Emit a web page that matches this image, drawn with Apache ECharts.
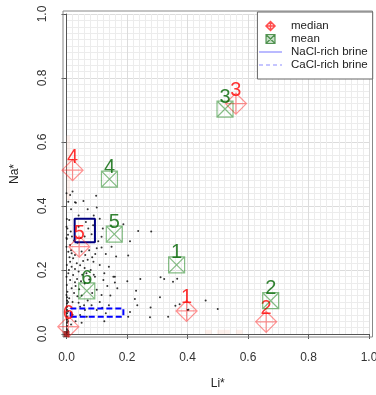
<!DOCTYPE html>
<html>
<head>
<meta charset="utf-8">
<script src="https://cdn.jsdelivr.net/npm/echarts@6/dist/echarts.min.js"></script>
<style>
  html, body { margin: 0; padding: 0; background: #fff; }
  #chart { width: 376px; height: 395px; }
</style>
</head>
<body>
<div id="chart"></div>
<script>
// axis ticks (both axes)
const ticks = [0, 0.2, 0.4, 0.6, 0.8, 1.0];
const groupLabels = ['1', '2', '3', '4', '5', '6'];

// group medians and means (Li*, Na*)
const medianLi = [0.397, 0.660, 0.560, 0.020, 0.042, 0.006];
const medianNa = [0.072, 0.038, 0.720, 0.512, 0.273, 0.023];
const meanLi = [0.364, 0.675, 0.524, 0.142, 0.158, 0.067];
const meanNa = [0.216, 0.104, 0.703, 0.484, 0.312, 0.135];

// brine fields: [Li min, Li max, Na min, Na max]
const naclBox = [0.027, 0.094, 0.287, 0.360];
const caclBox = [0.014, 0.188, 0.054, 0.080];

// overlapping samples stacked at the origin
const originCluster = [[0, 0]];

// faint density cells: [Li min, Na min, Li max, Na max]
const pinkCells = [
  [-0.01, 0.42, 0.012, 0.62],
  [0.458, -0.01, 0.48, 0.013],
  [0.498, -0.01, 0.54, 0.013],
  [0.56, -0.01, 0.582, 0.013]
];

// individual samples (Li*, Na*)
const samples = [
  [0.000, 0.440], [0.012, 0.434], [0.020, 0.445], [0.031, 0.410], [0.098, 0.432], [0.100, 0.395],
  [0.237, 0.322], [0.280, 0.320], [0.188, 0.343], [0.210, 0.290], [0.204, 0.245], [0.164, 0.242],
  [0.244, 0.172], [0.201, 0.165], [0.160, 0.179], [0.168, 0.143], [0.230, 0.135], [0.226, 0.109],
  [0.234, 0.090], [0.278, 0.083], [0.276, 0.052], [0.311, 0.177], [0.323, 0.172], [0.309, 0.115],
  [0.336, 0.054], [0.204, 0.054], [0.366, 0.173], [0.352, 0.163], [0.210, 0.069], [0.360, 0.088],
  [0.374, 0.093], [0.403, 0.076], [0.460, 0.105], [0.500, 0.078], [0.400, 0.075],
  [0.006, 0.413], [0.028, 0.412], [0.056, 0.416], [0.001, 0.359], [0.009, 0.356], [0.000, 0.335],
  [0.003, 0.330], [0.000, 0.300], [0.001, 0.297], [0.012, 0.278], [0.000, 0.273], [0.006, 0.257],
  [0.017, 0.252], [0.028, 0.247], [0.022, 0.237], [0.012, 0.226], [0.034, 0.221], [0.001, 0.216],
  [0.017, 0.210], [0.028, 0.203], [0.006, 0.190], [0.022, 0.184], [0.000, 0.179], [0.012, 0.169],
  [0.028, 0.162], [0.001, 0.153], [0.017, 0.143], [0.003, 0.132], [0.000, 0.122], [0.009, 0.112],
  [0.100, 0.268], [0.116, 0.270], [0.089, 0.226], [0.110, 0.216], [0.094, 0.179], [0.122, 0.169],
  [0.100, 0.138], [0.116, 0.122], [0.045, 0.085], [0.061, 0.075], [0.083, 0.090], [0.100, 0.075],
  [0.045, 0.059], [0.067, 0.054], [0.155, 0.179], [0.160, 0.161], [0.149, 0.273], [0.116, 0.304],
  [0.018, 0.305], [0.025, 0.292], [0.036, 0.285], [0.047, 0.300], [0.060, 0.305], [0.072, 0.330],
  [0.083, 0.312], [0.064, 0.350], [0.088, 0.340], [0.040, 0.335], [0.015, 0.262], [0.050, 0.258],
  [0.062, 0.247], [0.075, 0.262], [0.085, 0.240], [0.095, 0.250], [0.070, 0.232], [0.055, 0.228],
  [0.045, 0.215], [0.060, 0.206], [0.040, 0.195], [0.052, 0.185], [0.066, 0.190], [0.080, 0.200],
  [0.090, 0.185], [0.035, 0.172], [0.048, 0.165], [0.060, 0.158], [0.075, 0.170], [0.030, 0.150],
  [0.042, 0.140], [0.025, 0.128], [0.036, 0.118], [0.050, 0.120], [0.085, 0.128], [0.070, 0.105],
  [0.040, 0.098], [0.020, 0.100], [0.058, 0.090], [0.110, 0.100], [0.118, 0.082], [0.130, 0.065],
  [0.140, 0.090], [0.125, 0.040], [0.020, 0.060], [0.030, 0.040], [0.015, 0.030], [0.050, 0.035],
  [0.130, 0.250], [0.140, 0.210], [0.125, 0.190], [0.135, 0.150], [0.145, 0.120], [0.105, 0.290],
  [0.120, 0.330], [0.110, 0.360], [0.090, 0.370], [0.070, 0.390], [0.015, 0.390], [0.040, 0.370],
  [0.008, 0.200], [0.010, 0.240], [0.005, 0.310], [0.014, 0.320],
  [0.002, 0.005], [0.002, 0.015], [0.002, 0.025], [0.002, 0.035], [0.002, 0.045], [0.002, 0.055],
  [0.002, 0.065], [0.002, 0.075], [0.002, 0.085], [0.002, 0.095], [0.002, 0.105], [0.002, 0.115],
  [0.005, 0.010], [0.005, 0.040], [0.005, 0.070], [0.005, 0.100]
];

const FONT = '"Liberation Sans", Arial, sans-serif';
const DIAMOND = 'path://M0,-10L10,0L0,10L-10,0Z M-10,0L10,0 M0,-10L0,10';
const XBOX = 'path://M0,0L10,0L10,10L0,10Z M0,0L10,10 M10,0L0,10';

function boxPath(b) {
  return [[b[0], b[2]], [b[1], b[2]], [b[1], b[3]], [b[0], b[3]], [b[0], b[2]]];
}

const chart = echarts.init(document.getElementById('chart'));

const axisCommon = {
  type: 'value',
  min: ticks[0],
  max: ticks[ticks.length - 1],
  interval: ticks[1] - ticks[0],
  nameLocation: 'middle',
  nameTextStyle: { fontFamily: FONT, fontSize: 12, color: '#222' },
  axisLine: { show: true, lineStyle: { color: '#555', width: 1 } },
  axisTick: { show: true, inside: false, length: 5, lineStyle: { color: '#555' } },
  axisLabel: {
    fontFamily: FONT, fontSize: 12, color: '#333',
    formatter: (v) => v.toFixed(1)
  },
  splitLine: { show: true, lineStyle: { color: '#dcdcdc', width: 1 } },
  minorTick: { show: false, splitNumber: 10 },
  minorSplitLine: { show: true, lineStyle: { color: '#ececec', width: 1 } }
};

const noSymbol = { color: 'rgba(0,0,0,0)', borderWidth: 0, opacity: 0 };

chart.setOption({
  animation: false,
  backgroundColor: '#fff',
  grid: { left: 66.5, top: 14, width: 302.5, height: 320, containLabel: false, outerBoundsMode: 'none' },
  xAxis: Object.assign({}, axisCommon, {
    name: 'Li*', nameGap: 41, offset: 3,
    axisLabel: Object.assign({}, axisCommon.axisLabel, { margin: 15 })
  }),
  yAxis: Object.assign({}, axisCommon, {
    name: 'Na*', nameGap: 42, offset: 3.5,
    axisLabel: Object.assign({}, axisCommon.axisLabel, { rotate: 90, margin: 14 })
  }),
  legend: {
    orient: 'vertical', right: 3.3, top: 12,
    padding: [7.5, 5, 7.5, 1],
    itemWidth: 23, itemHeight: 9, itemGap: 0,
    backgroundColor: '#fff', borderColor: '#666', borderWidth: 1,
    textStyle: { fontFamily: FONT, fontSize: 11.5, color: '#222', lineHeight: 13, padding: [0, 0, 0, 4] },
    data: [
      { name: 'median', itemStyle: { color: 'rgba(0,0,0,0)', borderColor: '#ff2020', borderWidth: 1.5 } },
      { name: 'mean', itemStyle: { color: 'rgba(60,140,60,0.35)', borderColor: '#2e7d2e', borderWidth: 1.2 } },
      { name: 'NaCl-rich brine', itemStyle: noSymbol, lineStyle: { color: '#8c8cff', width: 1.2 } },
      { name: 'CaCl-rich brine', itemStyle: noSymbol, lineStyle: { color: '#8c8cff', width: 1.2, type: [4, 3] } }
    ]
  },
  graphic: [{
    type: 'rect', silent: true, z: 1,
    shape: { x: 63, y: 11, width: 309.5, height: 326 },
    style: { fill: 'none', stroke: '#888', lineWidth: 1 }
  }],
  series: [
    {
      name: 'samples', type: 'scatter', z: 2, silent: true, clip: false,
      symbol: 'circle', symbolSize: 2,
      itemStyle: { color: '#111', opacity: 0.85 },
      data: samples,
      markArea: {
        silent: true,
        itemStyle: { color: 'rgba(250, 205, 190, 0.3)' },
        data: pinkCells.map(c => [{ coord: [c[0], c[1]] }, { coord: [c[2], c[3]] }])
      }
    },
    {
      name: 'origin', type: 'scatter', z: 2, silent: true, clip: false,
      symbol: 'rect', symbolSize: 6,
      itemStyle: { color: '#7a1010' },
      data: originCluster
    },
    {
      name: 'NaCl-rich brine', type: 'line', z: 3, silent: true, clip: false,
      symbol: 'none', showSymbol: false,
      itemStyle: { color: '#00007f' },
      lineStyle: { color: '#00007f', width: 2 },
      data: boxPath(naclBox)
    },
    {
      name: 'CaCl-rich brine', type: 'line', z: 3, silent: true, clip: false,
      symbol: 'none', showSymbol: false,
      itemStyle: { color: '#0000ff' },
      lineStyle: { color: '#0000ff', width: 2, type: [6, 3] },
      data: boxPath(caclBox)
    },
    {
      name: 'median', type: 'scatter', z: 4, clip: false,
      symbol: DIAMOND, symbolSize: 21, symbolKeepAspect: true,
      itemStyle: { color: 'rgba(0,0,0,0)', borderColor: 'rgba(255,30,30,0.6)', borderWidth: 1.2 },
      emphasis: { disabled: true },
      label: {
        show: true, position: 'inside', offset: [0, -13],
        fontFamily: FONT, fontSize: 20, color: '#ff0000',
        formatter: (p) => groupLabels[p.dataIndex]
      },
      data: medianLi.map((x, i) => [x, medianNa[i]])
    },
    {
      name: 'mean', type: 'scatter', z: 5, clip: false,
      symbol: XBOX, symbolSize: 16, symbolKeepAspect: true,
      itemStyle: { color: 'rgba(0,0,0,0)', borderColor: 'rgba(0,120,0,0.6)', borderWidth: 1.2 },
      emphasis: { disabled: true },
      label: {
        show: true, position: 'inside', offset: [0, -12],
        fontFamily: FONT, fontSize: 20, color: '#006400',
        formatter: (p) => groupLabels[p.dataIndex]
      },
      data: meanLi.map((x, i) => [x, meanNa[i]])
    }
  ]
});
</script>
</body>
</html>
